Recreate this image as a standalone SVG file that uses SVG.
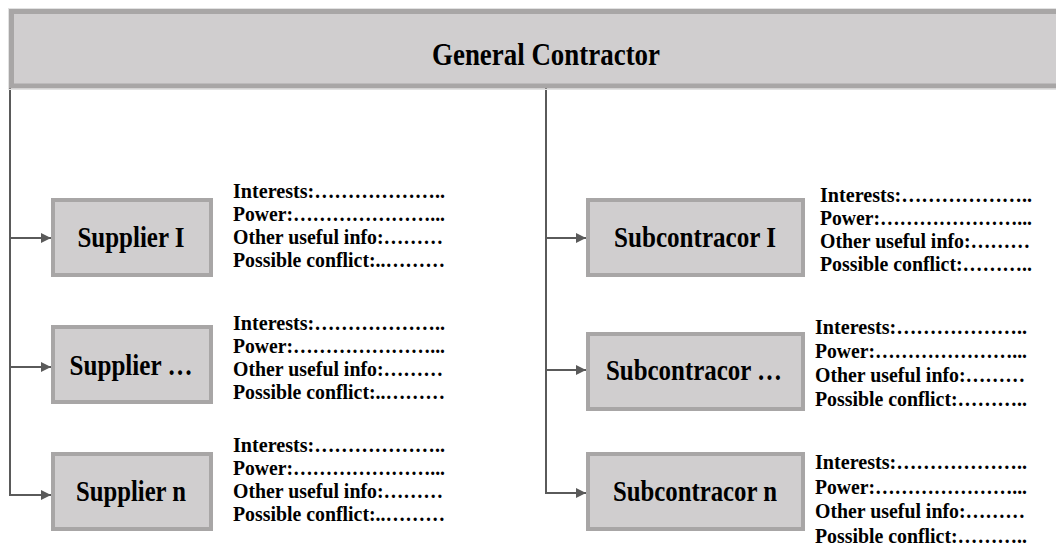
<svg xmlns="http://www.w3.org/2000/svg" width="1056" height="560" viewBox="0 0 1056 560">
<defs>
<style>
.box{fill:#d0cecf;stroke:#a8a6a6;stroke-width:4}
.halo{fill:none;stroke:#e2e2e2;stroke-width:1}
.lbl{font-family:"Liberation Serif","Times New Roman",serif;font-weight:bold;font-size:29px;fill:#000;text-anchor:middle}
.title{font-family:"Liberation Serif","Times New Roman",serif;font-weight:bold;font-size:31px;fill:#000;text-anchor:middle}
.info{font-family:"Liberation Serif","Times New Roman",serif;font-weight:bold;font-size:21px;fill:#000}
.con{fill:none;stroke:#5a5a5a;stroke-width:2}
</style>
<marker id="arr" viewBox="0 0 10 10" refX="10" refY="5" markerWidth="5" markerHeight="5" orient="auto" markerUnits="strokeWidth">
<path d="M0,0 L10,5 L0,10 z" fill="#5a5a5a"/>
</marker>
</defs>
<rect width="1056" height="560" fill="#fff"/>

<g id="connectors">
<path class="con" d="M10,88 V495 H51" marker-end="url(#arr)"/>
<path class="con" d="M10,238 H51" marker-end="url(#arr)"/>
<path class="con" d="M10,367 H51" marker-end="url(#arr)"/>
<path class="con" d="M546,88 V493 H586" marker-end="url(#arr)"/>
<path class="con" d="M546,238 H586" marker-end="url(#arr)"/>
<path class="con" d="M546,370 H586" marker-end="url(#arr)"/>
</g>

<g id="general-contractor">
<rect class="halo" x="8.5" y="8.5" width="1060" height="81"/>
<rect x="11.5" y="11.5" width="1060" height="74.5" fill="#d0cecf" stroke="#a8a6a6" stroke-width="5"/>
<text class="title" x="546" y="65" textLength="228" lengthAdjust="spacingAndGlyphs">General Contractor</text>
</g>

<g id="supplier-1">
<rect class="box" x="53" y="200" width="158" height="75"/>
<text class="lbl" x="131" y="247" textLength="107" lengthAdjust="spacingAndGlyphs">Supplier I</text>
<text class="info" x="233" y="198" textLength="212" lengthAdjust="spacingAndGlyphs">Interests:………………..</text>
<text class="info" x="233" y="221" textLength="212" lengthAdjust="spacingAndGlyphs">Power:…………………...</text>
<text class="info" x="233" y="244" textLength="210" lengthAdjust="spacingAndGlyphs">Other useful info:………</text>
<text class="info" x="233" y="267" textLength="212" lengthAdjust="spacingAndGlyphs">Possible conflict:..………</text>
</g>

<g id="supplier-2">
<rect class="box" x="53" y="327" width="158" height="75"/>
<text class="lbl" x="131" y="375" textLength="123" lengthAdjust="spacingAndGlyphs">Supplier …</text>
<text class="info" x="233" y="330" textLength="212" lengthAdjust="spacingAndGlyphs">Interests:………………..</text>
<text class="info" x="233" y="353" textLength="212" lengthAdjust="spacingAndGlyphs">Power:…………………...</text>
<text class="info" x="233" y="376" textLength="210" lengthAdjust="spacingAndGlyphs">Other useful info:………</text>
<text class="info" x="233" y="399" textLength="212" lengthAdjust="spacingAndGlyphs">Possible conflict:..………</text>
</g>

<g id="supplier-n">
<rect class="box" x="53" y="454" width="158" height="75"/>
<text class="lbl" x="131" y="501" textLength="110" lengthAdjust="spacingAndGlyphs">Supplier n</text>
<text class="info" x="233" y="452" textLength="212" lengthAdjust="spacingAndGlyphs">Interests:………………..</text>
<text class="info" x="233" y="475" textLength="212" lengthAdjust="spacingAndGlyphs">Power:…………………...</text>
<text class="info" x="233" y="498" textLength="210" lengthAdjust="spacingAndGlyphs">Other useful info:………</text>
<text class="info" x="233" y="521" textLength="212" lengthAdjust="spacingAndGlyphs">Possible conflict:..………</text>
</g>

<g id="subcontractor-1">
<rect class="box" x="588" y="200" width="215" height="75"/>
<text class="lbl" x="695" y="247" textLength="162" lengthAdjust="spacingAndGlyphs">Subcontracor I</text>
<text class="info" x="820" y="202" textLength="212" lengthAdjust="spacingAndGlyphs">Interests:………………..</text>
<text class="info" x="820" y="225" textLength="212" lengthAdjust="spacingAndGlyphs">Power:…………………...</text>
<text class="info" x="820" y="248" textLength="210" lengthAdjust="spacingAndGlyphs">Other useful info:………</text>
<text class="info" x="820" y="271" textLength="212" lengthAdjust="spacingAndGlyphs">Possible conflict:………..</text>
</g>

<g id="subcontractor-2">
<rect class="box" x="588" y="334" width="215" height="75"/>
<text class="lbl" x="694" y="380" textLength="176" lengthAdjust="spacingAndGlyphs">Subcontracor …</text>
<text class="info" x="815" y="334" textLength="212" lengthAdjust="spacingAndGlyphs">Interests:………………..</text>
<text class="info" x="815" y="358" textLength="212" lengthAdjust="spacingAndGlyphs">Power:…………………...</text>
<text class="info" x="815" y="382" textLength="210" lengthAdjust="spacingAndGlyphs">Other useful info:………</text>
<text class="info" x="815" y="406" textLength="212" lengthAdjust="spacingAndGlyphs">Possible conflict:………..</text>
</g>

<g id="subcontractor-n">
<rect class="box" x="588" y="454" width="215" height="75"/>
<text class="lbl" x="695" y="501" textLength="164" lengthAdjust="spacingAndGlyphs">Subcontracor n</text>
<text class="info" x="815" y="469" textLength="212" lengthAdjust="spacingAndGlyphs">Interests:………………..</text>
<text class="info" x="815" y="494" textLength="212" lengthAdjust="spacingAndGlyphs">Power:…………………...</text>
<text class="info" x="815" y="518" textLength="210" lengthAdjust="spacingAndGlyphs">Other useful info:………</text>
<text class="info" x="815" y="543" textLength="212" lengthAdjust="spacingAndGlyphs">Possible conflict:………..</text>
</g>
</svg>
